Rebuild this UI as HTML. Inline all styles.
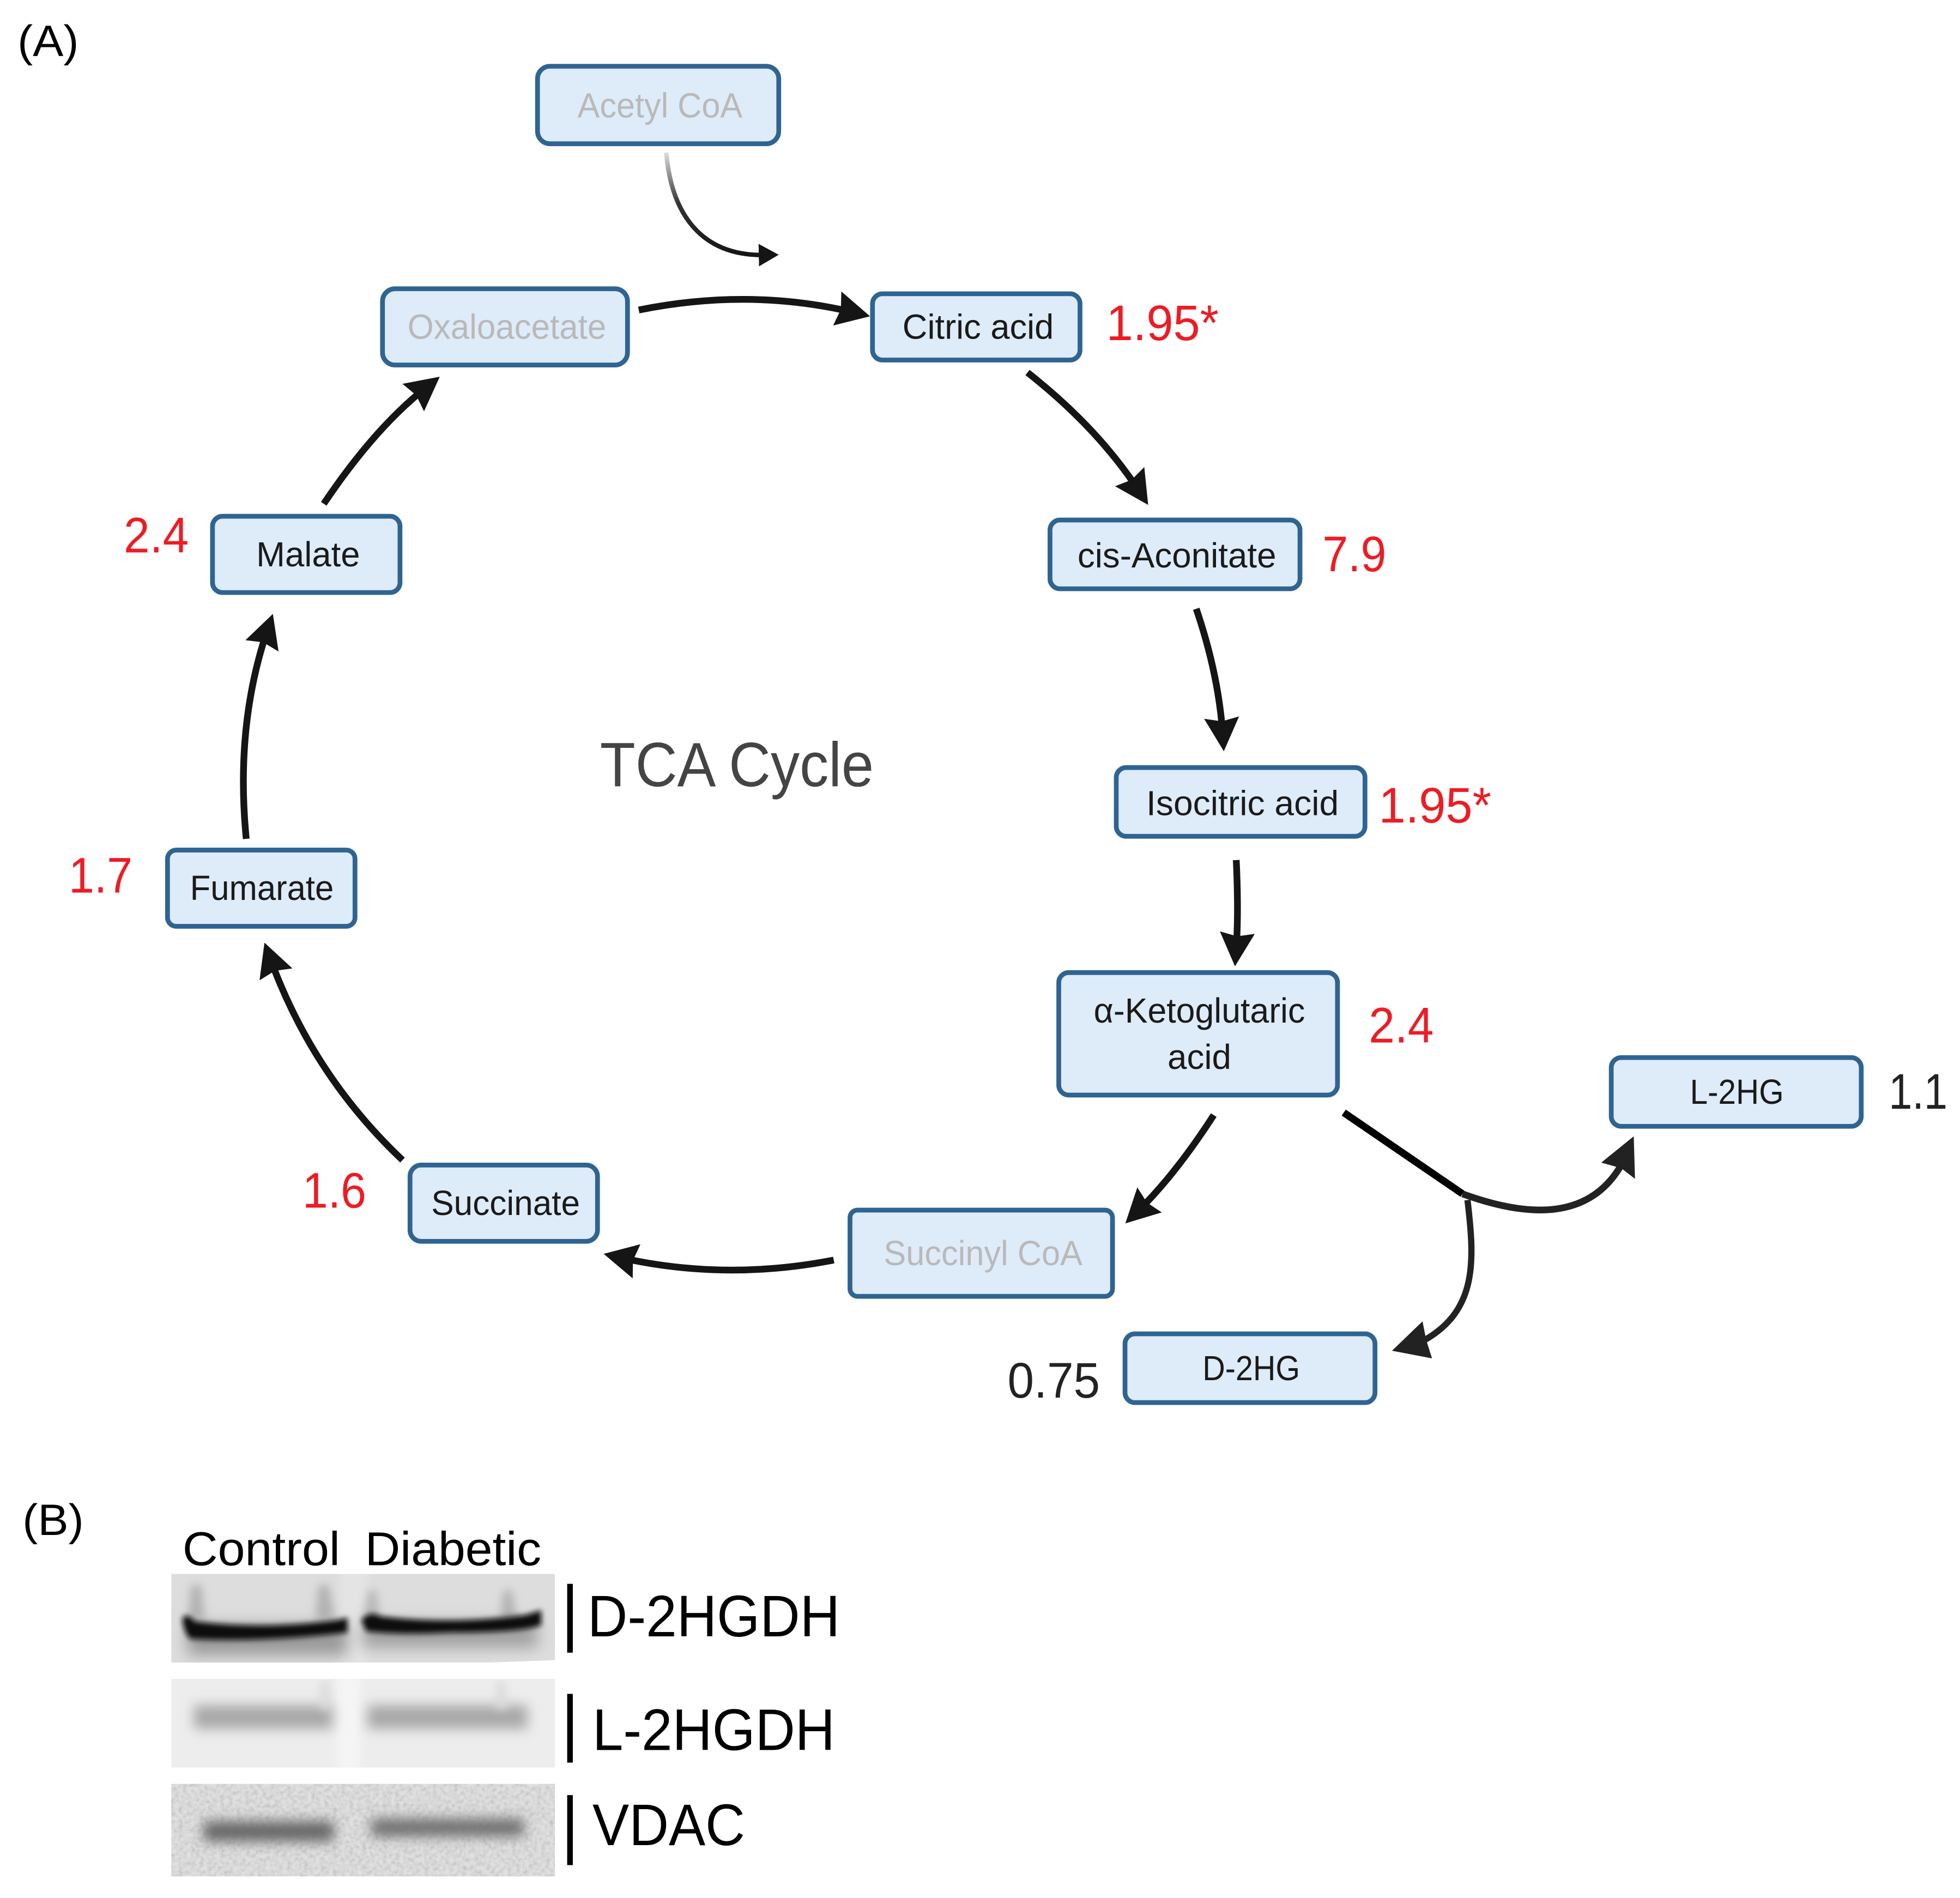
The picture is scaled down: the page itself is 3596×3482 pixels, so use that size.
<!DOCTYPE html>
<html><head><meta charset="utf-8"><style>
html,body{margin:0;padding:0;background:#fff}
svg{display:block;width:3596px;height:3482px}
text{font-family:"Liberation Sans",sans-serif}
.b{fill:#deebf9;stroke:#2f6492;stroke-width:3.8}
.n{font-size:28px;fill:#1a1a1a;text-anchor:start}
.g{fill:#b9b9b9}
.r{font-size:40px;fill:#ed1c24}
.k{font-size:40px;fill:#222}
.a{fill:none;stroke:#151515;stroke-width:5.4}
.w{font-size:47px;fill:#000}
</style></head><body>
<svg xmlns="http://www.w3.org/2000/svg" viewBox="0 0 1568 1518.3">
<defs>
<marker id="h" markerUnits="userSpaceOnUse" markerWidth="30" markerHeight="30" refX="14" refY="14" orient="auto"><path d="M0,0L27,14L0,28L3,14z" fill="#151515"/></marker>
<marker id="hs" markerUnits="userSpaceOnUse" markerWidth="20" markerHeight="20" refX="5" refY="9" orient="auto"><path d="M0,0L16,9L0,18z" fill="#151515"/></marker>
<linearGradient id="fade" x1="0" y1="0" x2="0" y2="1"><stop offset="0" stop-color="#ddd"/><stop offset=".5" stop-color="#333"/><stop offset="1" stop-color="#151515"/></linearGradient>
<filter id="bl" x="-30%" y="-100%" width="160%" height="300%"><feGaussianBlur stdDeviation="5"/></filter>
<filter id="bl2" x="-30%" y="-150%" width="160%" height="400%"><feGaussianBlur stdDeviation="6"/></filter>
<filter id="bs" x="-100%" y="-60%" width="300%" height="220%"><feGaussianBlur stdDeviation="2.2"/></filter>
<filter id="bm" x="-200%" y="-60%" width="500%" height="220%"><feGaussianBlur stdDeviation="3.5"/></filter>
<clipPath id="c1"><path d="M137,1259H444V1328L390,1330H137z"/></clipPath>
<clipPath id="c2"><rect x="137" y="1343" width="307" height="71"/></clipPath>
<clipPath id="c3"><rect x="137" y="1427" width="307" height="74"/></clipPath>
<filter id="noise" x="0" y="0" width="100%" height="100%"><feTurbulence type="fractalNoise" baseFrequency=".3" numOctaves="2" seed="4"/><feColorMatrix values="1.6 0 0 0 -.1 1.6 0 0 0 -.1 1.6 0 0 0 -.1 0 0 0 0 .2"/></filter>
</defs>
<rect width="1568" height="1518.3" fill="#fff"/>

<text x="14" y="45" font-size="35" textLength="49" lengthAdjust="spacingAndGlyphs">(A)</text>
<text x="18" y="1228" font-size="35" textLength="49" lengthAdjust="spacingAndGlyphs">(B)</text>

<!-- connectors -->
<path d="M533,122C537,170 560,205 612,204" fill="none" stroke="url(#fade)" stroke-width="3.6" marker-end="url(#hs)"/>
<path class="a" d="M511,248Q600,230 683.4,250" marker-end="url(#h)"/>
<path class="a" d="M822,298Q878,342 911.4,393" marker-end="url(#h)"/>
<path class="a" d="M957,487Q975,540 978.2,588" marker-end="url(#h)"/>
<path class="a" d="M989,688Q991,730 988.9,760" marker-end="url(#h)"/>
<path class="a" d="M971,892Q940,940 909.6,969.6" marker-end="url(#h)"/>
<path class="a" d="M667,1008Q580,1025 495.6,1005.9" marker-end="url(#h)"/>
<path class="a" d="M322,928Q250,860 216,766.3" marker-end="url(#h)"/>
<path class="a" d="M197,671Q188,580 214.1,503.4" marker-end="url(#h)"/>
<path class="a" d="M259,403Q300,342 341.6,309.4" marker-end="url(#h)"/>
<path d="M1075,890L1170,955" fill="none" stroke="#000" stroke-width="5.8"/>
<path d="M1170,955C1225,975 1272,975 1297,932" fill="none" stroke="#222" stroke-width="5.4"/>
<path d="M1307,909L1281,930L1297,934.5L1308,943z" fill="#222"/>
<path d="M1174,960C1180,1010 1182,1050 1136,1074" fill="none" stroke="#222" stroke-width="5"/>
<path d="M1113.6,1080.5L1138,1057L1141,1072L1145.6,1086.6z" fill="#222"/>

<!-- nodes -->
<rect class="b" x="430" y="53" width="193" height="62" rx="10"/>
<text class="n g" x="462" y="94" textLength="132" lengthAdjust="spacingAndGlyphs">Acetyl CoA</text>
<rect class="b" x="306" y="231" width="196" height="61" rx="10"/>
<text class="n g" x="326" y="271" textLength="159" lengthAdjust="spacingAndGlyphs">Oxaloacetate</text>
<rect class="b" x="698" y="235" width="166" height="53" rx="8"/>
<text class="n" x="722" y="271" textLength="121" lengthAdjust="spacingAndGlyphs">Citric acid</text>
<rect class="b" x="840" y="416" width="200" height="55" rx="8"/>
<text class="n" x="862" y="454" textLength="159" lengthAdjust="spacingAndGlyphs">cis-Aconitate</text>
<rect class="b" x="893" y="614" width="199" height="55" rx="8"/>
<text class="n" x="917" y="652" textLength="154" lengthAdjust="spacingAndGlyphs">Isocitric acid</text>
<rect class="b" x="847" y="778" width="223" height="98" rx="8"/>
<text class="n" x="875" y="818" textLength="169" lengthAdjust="spacingAndGlyphs">α-Ketoglutaric</text>
<text class="n" x="934" y="855" textLength="51" lengthAdjust="spacingAndGlyphs">acid</text>
<rect class="b" x="1289" y="846" width="200" height="55" rx="8"/>
<text class="n" x="1352" y="883" textLength="75" lengthAdjust="spacingAndGlyphs">L-2HG</text>
<rect class="b" x="900" y="1067" width="200" height="55" rx="8"/>
<text class="n" x="962" y="1104" textLength="78" lengthAdjust="spacingAndGlyphs">D-2HG</text>
<rect class="b" x="680" y="968" width="210" height="69" rx="6"/>
<text class="n g" x="707" y="1012" textLength="159" lengthAdjust="spacingAndGlyphs">Succinyl CoA</text>
<rect class="b" x="328" y="932" width="150" height="61" rx="9"/>
<text class="n" x="345" y="972" textLength="119" lengthAdjust="spacingAndGlyphs">Succinate</text>
<rect class="b" x="134" y="680" width="150" height="61" rx="7"/>
<text class="n" x="152" y="720" textLength="115" lengthAdjust="spacingAndGlyphs">Fumarate</text>
<rect class="b" x="170" y="413" width="150" height="61" rx="8"/>
<text class="n" x="205" y="453" textLength="83" lengthAdjust="spacingAndGlyphs">Malate</text>

<!-- values -->
<text class="r" x="885" y="272" textLength="90" lengthAdjust="spacingAndGlyphs">1.95*</text>
<text class="r" x="1058" y="457" textLength="51" lengthAdjust="spacingAndGlyphs">7.9</text>
<text class="r" x="1103" y="658" textLength="90" lengthAdjust="spacingAndGlyphs">1.95*</text>
<text class="r" x="1095" y="834" textLength="52" lengthAdjust="spacingAndGlyphs">2.4</text>
<text class="r" x="99" y="442" textLength="52" lengthAdjust="spacingAndGlyphs">2.4</text>
<text class="r" x="55" y="714" textLength="51" lengthAdjust="spacingAndGlyphs">1.7</text>
<text class="r" x="242" y="966" textLength="51" lengthAdjust="spacingAndGlyphs">1.6</text>
<text class="k" x="1511" y="887" textLength="47" lengthAdjust="spacingAndGlyphs">1.1</text>
<text class="k" x="806" y="1118" textLength="74" lengthAdjust="spacingAndGlyphs">0.75</text>
<text x="480" y="629" font-size="50" fill="#444" textLength="219" lengthAdjust="spacingAndGlyphs">TCA Cycle</text>

<!-- blots -->
<text x="146" y="1252" font-size="38" textLength="126" lengthAdjust="spacingAndGlyphs">Control</text>
<text x="292" y="1252" font-size="38" textLength="141" lengthAdjust="spacingAndGlyphs">Diabetic</text>

<g clip-path="url(#c1)">
<rect x="137" y="1259" width="307" height="71" fill="#dddddd"/>
<rect x="272" y="1255" width="22" height="80" fill="#e4e4e4" filter="url(#bm)"/>
<path d="M153,1268L161,1268L164,1296L150,1296z" fill="#b2b2b2" filter="url(#bm)"/>
<path d="M255,1268L263,1268L268,1296L252,1296z" fill="#b2b2b2" filter="url(#bm)"/>
<path d="M295,1272L301,1272L304,1296L290,1296z" fill="#b8b8b8" filter="url(#bm)"/>
<path d="M403,1272L409,1272L414,1296L400,1296z" fill="#b2b2b2" filter="url(#bm)"/>
<rect x="150" y="1300" width="128" height="24" fill="#9a9a9a" filter="url(#bl2)"/>
<rect x="290" y="1298" width="140" height="20" fill="#a0a0a0" filter="url(#bl2)"/>
<path d="M146,1294Q150,1290 156,1297Q210,1304 270,1296L278,1294V1306Q210,1314 152,1311Q146,1304 146,1294z" fill="#111" filter="url(#bs)"/>
<path d="M289,1296Q296,1288 304,1293Q360,1300 420,1292L433,1288V1300Q420,1306 360,1306Q320,1308 293,1305z" fill="#080808" filter="url(#bs)"/>
</g>
<g clip-path="url(#c2)">
<rect x="137" y="1343" width="307" height="71" fill="#ededed"/>
<rect x="270" y="1338" width="18" height="80" fill="#f5f5f5" filter="url(#bm)"/>
<rect x="155" y="1364" width="111" height="19" fill="#a8a8a8" filter="url(#bl)"/>
<rect x="294" y="1364" width="128" height="19" fill="#a8a8a8" filter="url(#bl)"/>
<rect x="256" y="1345" width="8" height="22" fill="#dcdcdc" filter="url(#bm)"/>
<rect x="397" y="1345" width="8" height="22" fill="#dcdcdc" filter="url(#bm)"/>
</g>
<g clip-path="url(#c3)">
<rect x="137" y="1427" width="307" height="74" fill="#d8d8d8"/>
<rect x="137" y="1427" width="307" height="74" filter="url(#noise)"/>
<rect x="163" y="1457" width="104" height="16" fill="#666" filter="url(#bl)"/>
<rect x="297" y="1455" width="122" height="14" fill="#6e6e6e" filter="url(#bl)"/>
</g>

<path d="M456,1267V1322M456,1355V1410M456,1436V1492" stroke="#000" stroke-width="4.5" fill="none"/>
<text class="w" x="470" y="1309" textLength="202" lengthAdjust="spacingAndGlyphs">D-2HGDH</text>
<text class="w" x="474" y="1400" textLength="194" lengthAdjust="spacingAndGlyphs">L-2HGDH</text>
<text class="w" x="474" y="1476" textLength="122" lengthAdjust="spacingAndGlyphs">VDAC</text>
</svg>
</body></html>
